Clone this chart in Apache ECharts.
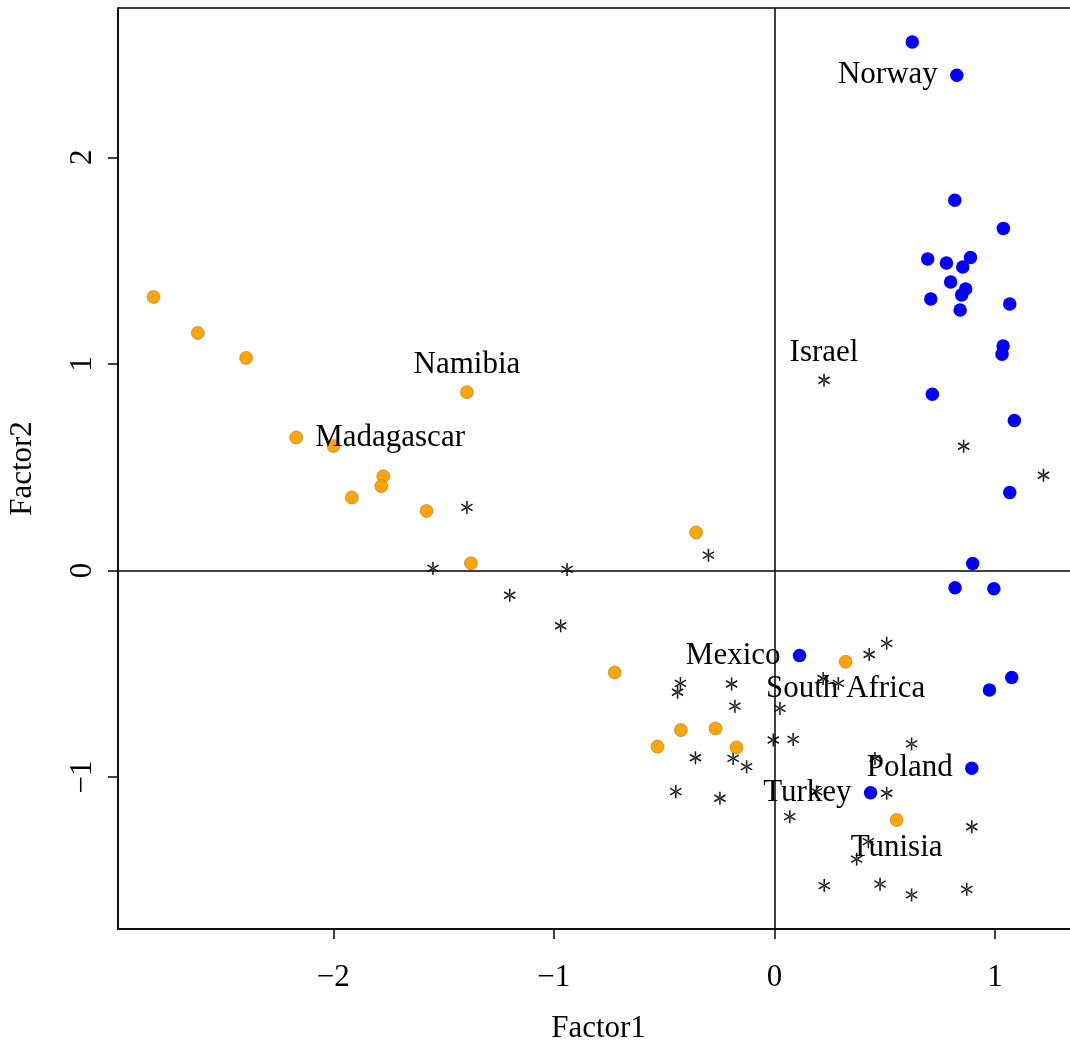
<!DOCTYPE html>
<html>
<head>
<meta charset="utf-8">
<script src="https://cdn.jsdelivr.net/npm/echarts@6/dist/echarts.min.js"></script>
<style>
html,body{margin:0;padding:0;background:#fff;}
#chart{width:1070px;height:1043px;}
</style>
</head>
<body>
<div id="chart"></div>
<script>
// ---- data ----
var orangeX = [-2.815,-2.614,-2.395,-1.394,-2.168,-1.999,-1.773,-1.782,-1.916,-1.577,-1.376,-0.355,-0.724,-0.424,-0.267,-0.530,-0.172,0.323,0.554];
var orangeY = [1.324,1.150,1.029,0.863,0.644,0.603,0.456,0.408,0.353,0.288,0.035,0.184,-0.494,-0.773,-0.765,-0.853,-0.857,-0.442,-1.208];

var blueX = [0.625,0.827,0.818,1.038,0.695,0.780,0.889,0.854,0.799,0.867,0.849,0.709,1.067,0.842,1.037,1.032,0.716,1.088,1.067,0.899,0.819,0.995,0.114,0.975,1.076,0.895,0.436];
var blueY = [2.558,2.397,1.792,1.656,1.508,1.488,1.515,1.469,1.396,1.363,1.334,1.314,1.290,1.261,1.087,1.047,0.853,0.726,0.377,0.034,-0.084,-0.089,-0.412,-0.579,-0.518,-0.958,-1.076];

var starX = [-1.394,-1.548,-0.299,-0.940,-1.200,-0.969,-0.426,-0.439,-0.194,-0.179,0.025,-0.005,0.085,-0.358,-0.187,-0.126,-0.447,-0.247,0.070,0.221,0.290,0.430,0.509,0.622,0.456,0.191,0.509,0.895,0.426,0.373,0.226,0.479,0.622,0.872,0.225,0.858,1.220];
var starY = [0.305,0.010,0.074,0.005,-0.120,-0.268,-0.547,-0.590,-0.550,-0.657,-0.668,-0.821,-0.818,-0.907,-0.910,-0.950,-1.071,-1.103,-1.192,-0.523,-0.547,-0.407,-0.353,-0.840,-0.910,-1.071,-1.079,-1.241,-1.313,-1.398,-1.526,-1.519,-1.571,-1.544,0.921,0.601,0.461];

// labelled countries: name, group, index into that group
var labelNames  = ['Norway','Israel','Namibia','Madagascar','Mexico','South Africa','Poland','Turkey','Tunisia'];
var labelGroups = ['blue','star','orange','orange','blue','orange','blue','blue','orange'];
var labelIndex  = [1,34,3,4,22,17,25,26,18];
var labelSide   = ['left','top','top','right','left','bottom','left','left','bottom'];

var xTicks = [-2,-1,0,1];
var yTicks = [-1,0,1,2];
var xTitle = 'Factor1';
var yTitle = 'Factor2';

// ---- build ----
function zip(xs, ys){ return xs.map(function(v,i){ return [v, ys[i]]; }); }
var groups = {orange: zip(orangeX, orangeY), blue: zip(blueX, blueY), star: zip(starX, starY)};
var labelData = labelNames.map(function(n,i){
  var p = groups[labelGroups[i]][labelIndex[i]];
  var side = labelSide[i];
  var dist = (side === 'left' || side === 'right') ? 19 : 12;
  return {name: n, value: p, label: {position: side, distance: dist}};
});

var FONT = 'Liberation Serif';
function fmt(v){ return String(v).replace('-', '\u2212'); }

var starPath = 'path://M44,0L56,0L56,100L44,100Z M90.3,80.2L96.3,69.8L9.7,19.8L3.7,30.2Z M3.7,69.8L9.7,80.2L96.3,30.2L90.3,19.8Z';

var chart = echarts.init(document.getElementById('chart'), null, {renderer: 'canvas'});
chart.setOption({
  animation: false,
  backgroundColor: '#fff',
  grid: {left: 118, top: 8, width: 961, height: 921, outerBoundsMode: 'none', containLabel: false,
         show: true, borderColor: '#000', borderWidth: 1.5, backgroundColor: 'transparent'},
  xAxis: {
    type: 'value', min: -2.976, max: 1.381,
    splitLine: {show: false},
    axisLine: {show: true, onZero: false, lineStyle: {color: '#000', width: 1.5}},
    axisTick: {show: true, length: 10, customValues: xTicks, lineStyle: {color: '#000', width: 1.5}},
    axisLabel: {customValues: xTicks, formatter: fmt, fontFamily: FONT, fontSize: 31, color: '#000', margin: 33},
    name: xTitle, nameLocation: 'middle', nameGap: 84,
    nameTextStyle: {fontFamily: FONT, fontSize: 31, color: '#000'}
  },
  yAxis: {
    type: 'value', min: -1.736, max: 2.723,
    splitLine: {show: false},
    axisLine: {show: true, onZero: false, lineStyle: {color: '#000', width: 1.5}},
    axisTick: {show: true, length: 10, customValues: yTicks, lineStyle: {color: '#000', width: 1.5}},
    axisLabel: {customValues: yTicks, formatter: fmt, fontFamily: FONT, fontSize: 31, color: '#000', margin: 20, rotate: 90},
    name: yTitle, nameLocation: 'middle', nameGap: 80,
    nameTextStyle: {fontFamily: FONT, fontSize: 31, color: '#000'}
  },
  series: [
    {
      type: 'scatter', name: 'stars', data: groups.star,
      symbol: starPath, symbolSize: [12, 13], symbolKeepAspect: false,
      itemStyle: {color: '#1a1a1a', opacity: 1},
      markLine: {
        silent: true, symbol: ['none','none'], label: {show: false},
        lineStyle: {color: '#000', width: 1.5, type: 'solid', opacity: 1},
        data: [{xAxis: 0}, {yAxis: 0}]
      }
    },
    {
      type: 'scatter', name: 'orange', data: groups.orange,
      symbol: 'circle', symbolSize: 13,
      itemStyle: {color: '#FFA500', borderColor: '#8a6a3a', borderWidth: 0.5, opacity: 1}
    },
    {
      type: 'scatter', name: 'blue', data: groups.blue,
      symbol: 'circle', symbolSize: 13.5,
      itemStyle: {color: '#0000FF', opacity: 1}
    },
    {
      type: 'scatter', name: 'labels', data: labelData,
      symbolSize: 0, silent: true,
      itemStyle: {opacity: 1, color: '#000'},
      label: {show: true, formatter: '{b}', fontFamily: FONT, fontSize: 31, color: '#000', opacity: 1}
    }
  ]
});
</script>
</body>
</html>
